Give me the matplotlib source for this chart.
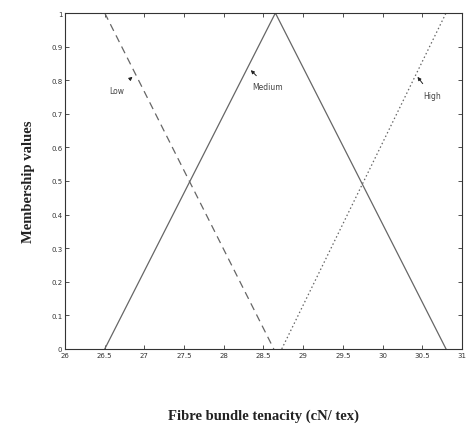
import matplotlib
matplotlib.use("Agg")
import matplotlib.pyplot as plt

# Membership function breakpoints (x) and values (y)
low_x = [26.5, 28.63]
low_y = [1, 0]
med_x = [26.5, 28.65, 30.8]
med_y = [0, 1, 0]
high_x = [28.73, 30.8]
high_y = [0, 1]

xticks = [26, 26.5, 27, 27.5, 28, 28.5, 29, 29.5, 30, 30.5, 31]
xticklabels = ["26", "26.5", "27", "27.5", "28", "28.5", "29", "29.5", "30", "30.5", "31"]
yticks = [0, 0.1, 0.2, 0.3, 0.4, 0.5, 0.6, 0.7, 0.8, 0.9, 1]
yticklabels = ["0", "0.1", "0.2", "0.3", "0.4", "0.5", "0.6", "0.7", "0.8", "0.9", "1"]

labels = ["Low", "Medium", "High"]
arrow_tips = [(26.85, 0.81), (28.34, 0.83), (30.44, 0.81)]
text_pos = [(26.65, 0.77), (28.55, 0.78), (30.62, 0.755)]

fig = plt.figure(figsize=(4.68, 4.31), dpi=100)
ax = fig.add_axes([0.139, 0.188, 0.848, 0.7795])

col = "#666666"
ax.plot(low_x, low_y, linestyle=(0, (6, 4)), color=col, lw=0.9)
ax.plot(med_x, med_y, linestyle="-", color=col, lw=0.9)
ax.plot(high_x, high_y, linestyle=(0, (1.2, 2)), color=col, lw=0.9)

for lab, tip, tp in zip(labels, arrow_tips, text_pos):
    ax.annotate(lab, xy=tip, xytext=tp, fontsize=5.5, color="#444444",
                ha="center", va="center", family="DejaVu Sans",
                arrowprops=dict(arrowstyle="-|>", color="#222222", lw=0.7,
                                mutation_scale=5, shrinkA=4, shrinkB=0))

ax.set_xlim(26, 31)
ax.set_ylim(0, 1)
ax.set_xticks(xticks)
ax.set_xticklabels(xticklabels)
ax.set_yticks(yticks)
ax.set_yticklabels(yticklabels)
ax.tick_params(direction="in", length=3, width=0.6, labelsize=5, colors="#333333",
               top=True, right=True, pad=2)
for s in ax.spines.values():
    s.set_color("#333333")
    s.set_linewidth(0.8)

ax.set_xlabel("Fibre bundle tenacity (cN/ tex)", family="Liberation Serif",
              fontsize=10.5, fontweight="bold", color="#222222")
ax.set_ylabel("Membership values", family="Liberation Serif",
              fontsize=10.5, fontweight="bold", color="#222222")
ax.xaxis.set_label_coords(0.5, -0.178)
ax.yaxis.set_label_coords(-0.075, 0.5)

fig.savefig("out.png", dpi=100)
